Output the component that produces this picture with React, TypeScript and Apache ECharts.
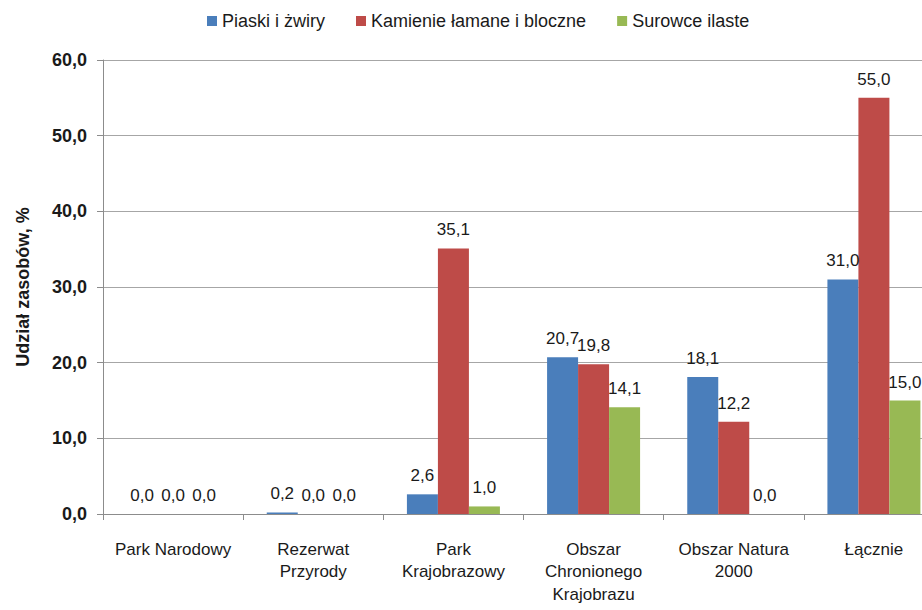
import React, { useEffect, useRef } from "react";
import * as echarts from "echarts";

const categories = [
  "Park Narodowy",
  "Rezerwat\nPrzyrody",
  "Park\nKrajobrazowy",
  "Obszar\nChronionego\nKrajobrazu",
  "Obszar Natura\n2000",
  "Łącznie",
];
const seriesNames = ["Piaski i żwiry", "Kamienie łamane i bloczne", "Surowce ilaste"];
const piaski = [0.0, 0.2, 2.6, 20.7, 18.1, 31.0];
const kamienie = [0.0, 0.0, 35.1, 19.8, 12.2, 55.0];
const surowce = [0.0, 0.0, 1.0, 14.1, 0.0, 15.0];
const colors = ["#4A7EBB", "#BE4B48", "#98B954"];

const FONT = "'Liberation Sans Narrow', 'Liberation Sans', Arial, sans-serif";
const fmt = (v: number) => v.toFixed(1).replace(".", ",");

export default function App() {
  const ref = useRef<HTMLDivElement>(null);
  useEffect(() => {
    if (!ref.current) return;
    const chart = echarts.init(ref.current, null, { renderer: "svg" });
    const data = [piaski, kamienie, surowce];
    chart.setOption({
      animation: false,
      backgroundColor: "#ffffff",
      textStyle: { fontFamily: FONT },
      legend: {
        top: 7,
        left: 202,
        itemWidth: 10,
        itemHeight: 10,
        itemGap: 31,
        icon: "rect",
        textStyle: { fontFamily: FONT, fontSize: 18, color: "#1a1a1a" },
        data: seriesNames,
      },
      grid: {
        left: 103,
        right: 0,
        top: 60,
        bottom: 96,
        containLabel: false,
        outerBoundsMode: "none",
      },
      xAxis: {
        type: "category",
        data: categories,
        axisLine: { lineStyle: { color: "#8c8c8c", width: 1 } },
        axisTick: { show: true, length: 6, lineStyle: { color: "#8c8c8c" } },
        axisLabel: {
          interval: 0,
          margin: 24,
          fontFamily: FONT,
          fontSize: 17,
          lineHeight: 22.5,
          color: "#1a1a1a",
        },
      },
      yAxis: {
        type: "value",
        min: 0,
        max: 60,
        interval: 10,
        name: "Udział zasobów, %",
        nameLocation: "middle",
        nameGap: 71,
        nameTextStyle: { fontFamily: FONT, fontSize: 18, fontWeight: "bold", color: "#1a1a1a" },
        axisLine: { show: true, lineStyle: { color: "#8c8c8c" } },
        axisTick: { show: true, length: 6, lineStyle: { color: "#8c8c8c" } },
        axisLabel: {
          margin: 16,
          formatter: (v: number) => fmt(v),
          fontFamily: FONT,
          fontSize: 18,
          fontWeight: "bold",
          color: "#1a1a1a",
        },
        splitLine: { show: true, lineStyle: { color: "#a6a6a6", width: 1 } },
      },
      series: seriesNames.map((name, i) => ({
        name,
        type: "bar",
        data: data[i],
        barWidth: 31,
        barGap: "0%",
        itemStyle: { color: colors[i] },
        label: {
          show: true,
          position: "top",
          distance: 10,
          formatter: (p: any) => fmt(p.value),
          fontFamily: FONT,
          fontSize: 17,
          color: "#1a1a1a",
        },
      })),
    });
    return () => chart.dispose();
  }, []);
  return (
    <div
      style={{
        position: "fixed",
        left: 0,
        top: 0,
        width: 922,
        height: 610,
        overflow: "hidden",
        background: "#fff",
      }}
    >
      <div ref={ref} style={{ width: 944, height: 610 }} />
    </div>
  );
}
